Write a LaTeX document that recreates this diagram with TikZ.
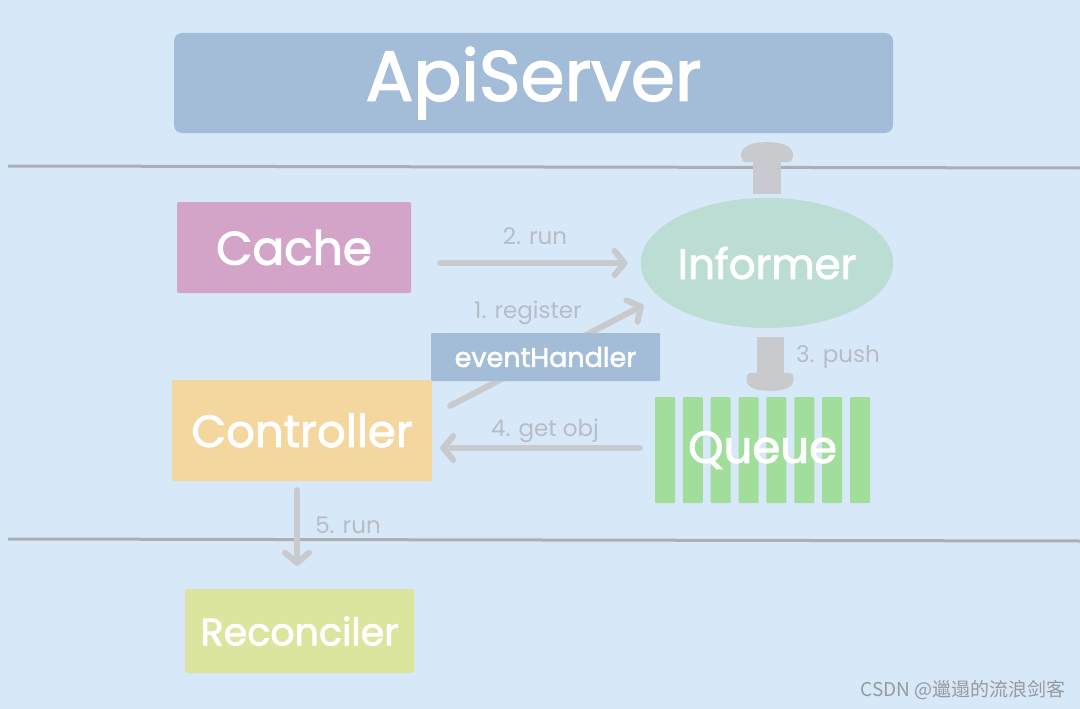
\documentclass[tikz,border=0pt]{standalone}
\usepackage{fontspec}
\setmainfont{Poppins}
\newfontfamily\heavy{Poppins}[FakeBold=2]
\newfontfamily\cjk{Noto Sans CJK SC}
\usetikzlibrary{arrows.meta,calc,shapes.geometric}
\definecolor{bgc}{HTML}{D7E8F8}
\definecolor{apic}{HTML}{A3BDD8}
\definecolor{cachec}{HTML}{D3A4C8}
\definecolor{infc}{HTML}{BCDDD3}
\definecolor{ctrlc}{HTML}{F3D79E}
\definecolor{queuec}{HTML}{A2DE9B}
\definecolor{recc}{HTML}{DCE49E}
\definecolor{linec}{HTML}{ABAFB4}
\definecolor{arrc}{HTML}{C9CACD}
\definecolor{labc}{HTML}{B8BDC5}
\definecolor{wmc}{HTML}{959AA0}
\tikzset{
  box/.style={rectangle, rounded corners=4pt, inner sep=0pt, text=white},
  conn/.style={draw=arrc, line width=6pt, line cap=round, -{Straight Barb[round, length=10pt, width=24pt, line width=6pt]}},
  bigshaft/.style={draw=arrc, line width=28pt},
  lab/.style={text=labc, font=\fontsize{23}{26}\selectfont, inner sep=0pt},
  sep/.style={draw=linec, line width=3pt}
}
\begin{document}
\begin{tikzpicture}[x=1pt, y=-1pt]
\fill[bgc] (0,0) rectangle (1080,709);
\useasboundingbox (0,0) rectangle (1080,709);
% separators
\coordinate (l1a) at (8,166); \coordinate (l1b) at (1080,168);
\coordinate (l2a) at (8,539); \coordinate (l2b) at (1080,541);
\draw[sep] (l1a) -- (l1b);
\draw[sep] (l2a) -- (l2b);
% nodes
\node[box, fill=apic, rounded corners=8pt, minimum width=719pt, minimum height=100pt, font=\heavy\fontsize{71}{74}\selectfont] (api) at (533.5,83) {ApiServer};
\node[box, fill=cachec, rounded corners=2pt, minimum width=234pt, minimum height=91pt, font=\heavy\fontsize{47}{50}\selectfont] (cache) at (294,247.5) {Cache};
\node[ellipse, fill=infc, inner sep=0pt, minimum width=244pt, minimum height=130pt, text=white, font=\heavy\fontsize{42}{45}\selectfont] (inf) at (767,263) {Informer};
\node[box, rounded corners=2pt, fill=ctrlc, minimum width=260pt, minimum height=101pt, font=\heavy\fontsize{45}{48}\selectfont] (ctrl) at (302,430.5) {Controller};
\node[box, rounded corners=2pt, fill=recc, minimum width=229pt, minimum height=84pt, font=\heavy\fontsize{38}{41}\selectfont] (rec) at (299.5,631) {Reconciler};
% queue bars
\foreach \i in {0,...,7} \fill[queuec, rounded corners=1pt] (655+\i*27.857,397) rectangle ++(20,106);
\node[inner sep=0pt, minimum width=215pt, minimum height=106pt, text=white, font=\heavy\fontsize{45}{48}\selectfont] (queue) at (762.5,450) {Queue};
% up arrow Informer -> ApiServer
\coordinate (uptip) at ([yshift=-9pt]api.south -| inf.north);
\draw[bigshaft, rounded corners=3pt] ([yshift=4pt]inf.north) -- ($(uptip)+(0,16)$);
\fill[arrc, rounded corners=2pt] ($(uptip)+(-24,20)$) .. controls ($(uptip)+(-30,6)$) and ($(uptip)+(-18,0)$) .. (uptip)
  .. controls ($(uptip)+(18,0)$) and ($(uptip)+(30,6)$) .. ($(uptip)+(24,20)$) -- cycle;
% down arrow Informer -> Queue
\coordinate (dntip) at ([yshift=6pt]queue.north -| 770,0);
\draw[bigshaft, line width=27pt] ([yshift=-9pt]inf.south -| dntip) -- ($(dntip)+(0,-16)$);
\fill[arrc, rounded corners=2pt] ($(dntip)+(-22,-18)$) .. controls ($(dntip)+(-27,-4)$) and ($(dntip)+(-15,0)$) .. (dntip)
  .. controls ($(dntip)+(15,0)$) and ($(dntip)+(27,-4)$) .. ($(dntip)+(22,-18)$) -- cycle;
% thin connectors
\draw[conn, shorten <=29pt, shorten >=13pt] (cache.east |- inf) -- (inf.west);
\draw[conn] ([shift={(18pt,-26pt)}]ctrl.north east) -- ([shift={(3pt,-42pt)}]inf.west);
\draw[conn, shorten <=15pt, shorten >=8pt] ([yshift=2pt]queue.west) -- ([yshift=2pt]ctrl.east |- queue.west);
\draw[conn, shorten <=9pt, shorten >=23pt] ([xshift=-5pt]ctrl.south) -- ([xshift=-5pt]ctrl.south |- rec.north);
\node[box, rounded corners=1pt, fill=apic, minimum width=229pt, minimum height=48pt, font=\heavy\fontsize{27}{30}\selectfont] (eh) at (545.5,357) {eventHandler};
% labels
\node[lab] (l2) at (535,236) {2. run};
\node[lab] (l1) at (528,313) {1. register};
\node[lab] (l3) at (838,357) {3. push};
\node[lab] (l4) at (545,431) {4. get obj};
\node[lab] (l5) at (348,525) {5. run};
% watermark
\node[text=wmc, inner sep=0pt, font=\cjk\fontsize{19}{21}\selectfont, anchor=east] (wm) at (1066,690) {CSDN @邋遢的流浪剑客};
\end{tikzpicture}
\end{document}
